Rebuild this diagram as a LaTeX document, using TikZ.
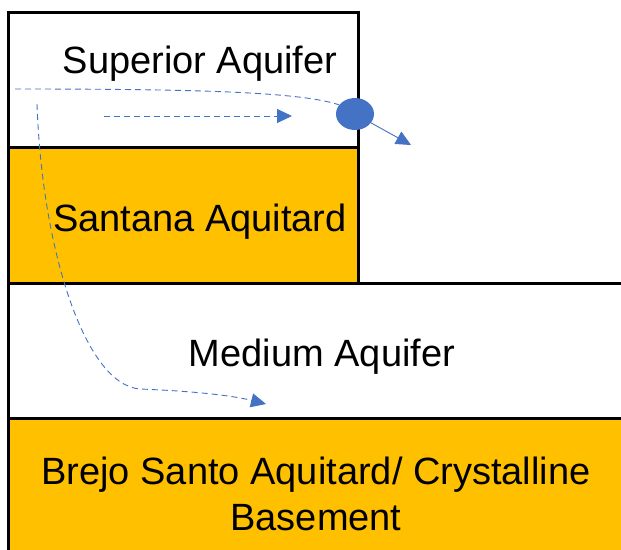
\documentclass[tikz,border=0pt]{standalone}
\usepackage{fontspec}
\setmainfont{Liberation Sans}
\usetikzlibrary{shapes.geometric,arrows.meta}
\definecolor{layerorange}{HTML}{FFC000}
\definecolor{flowblue}{HTML}{4472C4}
\tikzset{
  layer/.style={draw=black, line width=2.5pt, anchor=north west, inner sep=0pt},
  lbl/.style={anchor=base, inner sep=0pt, font=\fontsize{38}{46}\selectfont, align=center},
  flow/.style={draw=flowblue, line width=0.9pt, dash pattern=on 6pt off 4pt},
  tip/.style={-{Triangle[length=15pt,width=14pt,fill=flowblue]}},
  drop/.style={ellipse, fill=flowblue, minimum width=38pt, minimum height=32pt, inner sep=0pt}
}
\begin{document}
\begin{tikzpicture}[x=1pt,y=-1pt]
\clip (0,0) rectangle (621,549);
\fill[white] (0,0) rectangle (621,549);
% layers
\node[layer, fill=white, minimum width=350pt, minimum height=135pt] (sup) at (7,11) {};
\node[layer, fill=layerorange, minimum width=350pt, minimum height=136pt] (san) at (7,146) {};
\node[layer, fill=white, minimum width=630pt, minimum height=135pt] (med) at (7,282) {};
\node[layer, fill=layerorange, minimum width=630pt, minimum height=150pt] (bre) at (7,417) {};
% labels
\node[lbl] (tsup) at (200,73) {Superior Aquifer};
\node[lbl] (tsan) at (200,231) {Santana Aquitard};
\node[lbl] (tmed) at (322,366) {Medium Aquifer};
\node[lbl] (tbre) at (316,530) {Brejo Santo Aquitard/ Crystalline\\Basement};
% flow
\node[drop] (ell) at (355,114) {};
\coordinate (s1) at (15,89);
\coordinate (s2) at (104,116);
\coordinate (e2) at (292,116);
\coordinate (s3) at (37,104);
\coordinate (m3) at (140,389);
\coordinate (e3) at (266,404);
\coordinate (e4) at (411,145);
\draw[flow] (s1) .. controls (200,89) and (300,92) .. (ell.150);
\draw[flow, tip] (s2) -- (e2);
\draw[flow, tip] (s3) .. controls (42,250) and (85,385) .. (m3) .. controls (190,391) and (230,395) .. (e3);
\draw[draw=flowblue, line width=0.9pt, tip] (ell) -- (e4);
\end{tikzpicture}
\end{document}
